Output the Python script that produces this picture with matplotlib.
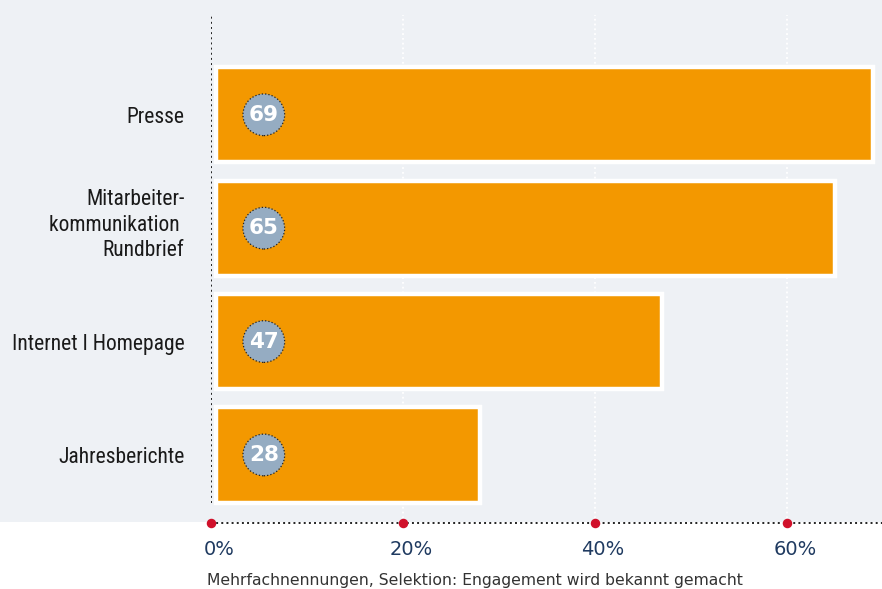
import matplotlib

matplotlib.use("Agg")
import matplotlib.pyplot as plt  # noqa: E402
import matplotlib.transforms as mtransforms  # noqa: E402
from matplotlib import font_manager  # noqa: E402
from matplotlib.patches import Rectangle  # noqa: E402

# dados
categorias = ["Presse", "Mitarbeiter-\nkommunikation \nRundbrief", "Internet I Homepage", "Jahresberichte"]
valores = [69, 65, 47, 28]
ticks = [0, 20, 40, 60]
tick_labels = ["0%", "20%", "40%", "60%"]
nota = "Mehrfachnennungen, Selektion: Engagement wird bekannt gemacht"

LARANJA = "#f39800"
CINZA_BG = "#eef1f5"
CIRCULO = "#95acc2"
AZUL = "#1f3a60"
VERMELHO = "#d0102a"

W, H = 882, 589

# fonte estreita para os rótulos, se houver
instaladas = {f.name for f in font_manager.fontManager.ttflist}
FONTE_ESTREITA = "DejaVu Sans"
for nome in ("Liberation Sans Narrow", "Roboto Condensed", "Open Sans Condensed"):
    if nome in instaladas:
        FONTE_ESTREITA = nome
        break
plt.rcParams["font.family"] = ["DejaVu Sans"]

fig = plt.figure(figsize=(W / 100, H / 100), dpi=100)
fig.patch.set_facecolor("white")
fig.patches.append(Rectangle((0, 1 - 522 / H), 1, 522 / H, transform=fig.transFigure,
                             facecolor=CINZA_BG, edgecolor="none", zorder=-5))

ax = fig.add_axes([211 / W, 1 - 523 / H, 1 - 211 / W, (523 - 15) / H])
ax.set_zorder(2)
ax.set_facecolor("none")
ax.set_xlim(0, (W - 211) / 9.6)
ax.set_ylim(3.6, -0.88)

y = list(range(len(categorias)))
INICIO = 0.55  # barras começam um pouco à direita do eixo
ax.barh(y, [v - INICIO for v in valores], left=INICIO, height=0.84, color=LARANJA,
        edgecolor="white", linewidth=3.2, zorder=3)

# círculos com os valores
ax.scatter([5.5] * len(y), y, s=900, color=CIRCULO, edgecolor="#222222",
           linewidths=0.9, linestyles=":", zorder=4)
for yi, v in zip(y, valores):
    ax.text(5.5, yi, str(v), ha="center", va="center", color="white",
            fontsize=15.5, fontweight="bold", zorder=5)

# grade pontilhada branca
for t in ticks[1:]:
    ax.axvline(t, color="white", linestyle=":", linewidth=1.3, zorder=1)
ax.axvline(0, ymin=0.04, ymax=1, color="#222222", linestyle=":", linewidth=1.4, zorder=2)

for s in ax.spines.values():
    s.set_visible(False)
ax.axhline(ax.get_ylim()[0], color="#222222", linestyle=":", linewidth=1.4, clip_on=False, zorder=2)
ax.scatter(ticks, [ax.get_ylim()[0]] * len(ticks), s=34, color=VERMELHO, clip_on=False, zorder=5)

ax.set_xticks(ticks)
ax.set_xticklabels(tick_labels, fontsize=14, color=AZUL)
ax.tick_params(axis="x", length=0, pad=12)
desloc = mtransforms.ScaledTranslation(8 / 100, 0, fig.dpi_scale_trans)
for lbl in ax.get_xticklabels():
    lbl.set_transform(lbl.get_transform() + desloc)

ax.set_yticks(y)
ax.set_yticklabels(categorias, fontsize=15.5, color="#1a1a1a", linespacing=1.3)
ax.tick_params(axis="y", length=0, pad=19)
sobe = mtransforms.ScaledTranslation(0, 8 / 100, fig.dpi_scale_trans)
for lbl in ax.get_yticklabels():
    lbl.set_ha("right")
    lbl.set_family(FONTE_ESTREITA)
    if FONTE_ESTREITA == "DejaVu Sans":
        lbl.set_fontstretch("condensed")
    if "\n" in lbl.get_text():
        lbl.set_transform(lbl.get_transform() + sobe)

fig.text(207 / W, 1 - 580 / H, nota, fontsize=11.25, color="#333333", va="center", ha="left")

fig.savefig("out.png", dpi=100)
